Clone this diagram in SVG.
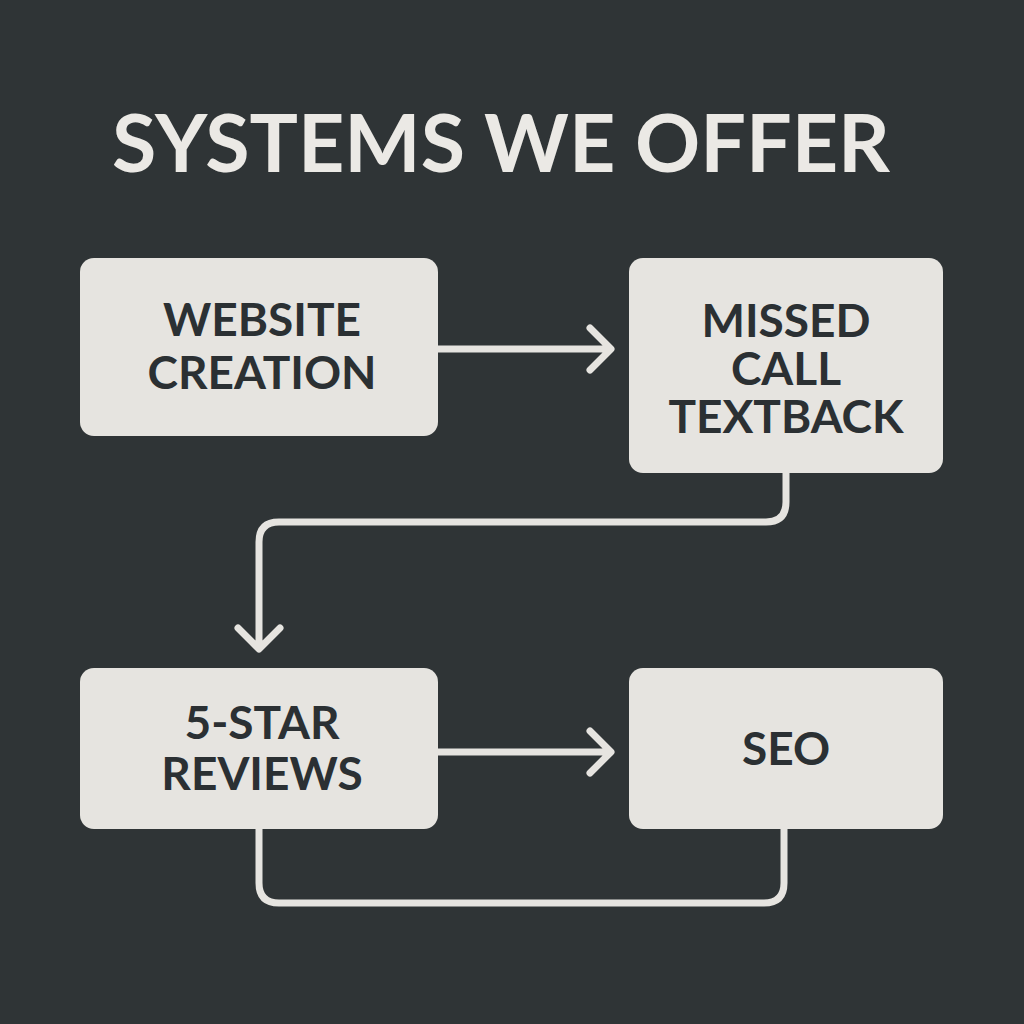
<svg xmlns="http://www.w3.org/2000/svg" width="1024" height="1024" viewBox="0 0 1024 1024">
  <style>
    .bg { fill: #2f3436; }
    .title { font-family: Lato, "Noto Sans", "Liberation Sans", sans-serif; font-weight: 700; font-size: 80px; fill: #ebe9e5; text-anchor: middle; }
    .box { fill: #e6e4e0; }
    .label { font-family: Lato, "Noto Sans", "Liberation Sans", sans-serif; font-weight: 700; font-size: 46px; fill: #2b3033; text-anchor: middle; }
    .conn { fill: none; stroke: #e6e4e0; stroke-width: 7; stroke-linecap: round; stroke-linejoin: round; }
  </style>
  <rect class="bg" x="0" y="0" width="1024" height="1024"/>
  <text class="title" x="501" y="172" textLength="778" lengthAdjust="spacingAndGlyphs">SYSTEMS WE OFFER</text>

  <g id="connectors">
    <path class="conn" d="M438 349 H610 M590 328 L611 349 L590 370"/>
    <path class="conn" d="M786 473 V502 Q786 522 766 522 H279 Q259 522 259 542 V648 M238 628 L259 649 L280 628"/>
    <path class="conn" d="M438 752 H610 M590 731 L611 752 L590 773"/>
    <path class="conn" d="M259 829 V883 Q259 903 279 903 H764 Q784 903 784 883 V829"/>
  </g>

  <g id="node-website">
    <rect class="box" x="80" y="258" width="358" height="178" rx="14"/>
    <text class="label" x="262" y="336">WEBSITE</text>
    <text class="label" x="262" y="389">CREATION</text>
  </g>
  <g id="node-missed">
    <rect class="box" x="629" y="258" width="314" height="215" rx="14"/>
    <text class="label" x="786" y="337">MISSED</text>
    <text class="label" x="786" y="385">CALL</text>
    <text class="label" x="786" y="433">TEXTBACK</text>
  </g>
  <g id="node-reviews">
    <rect class="box" x="80" y="668" width="358" height="161" rx="14"/>
    <text class="label" x="262" y="739">5-STAR</text>
    <text class="label" x="262" y="790">REVIEWS</text>
  </g>
  <g id="node-seo">
    <rect class="box" x="629" y="668" width="314" height="161" rx="14"/>
    <text class="label" x="786" y="765">SEO</text>
  </g>
</svg>
